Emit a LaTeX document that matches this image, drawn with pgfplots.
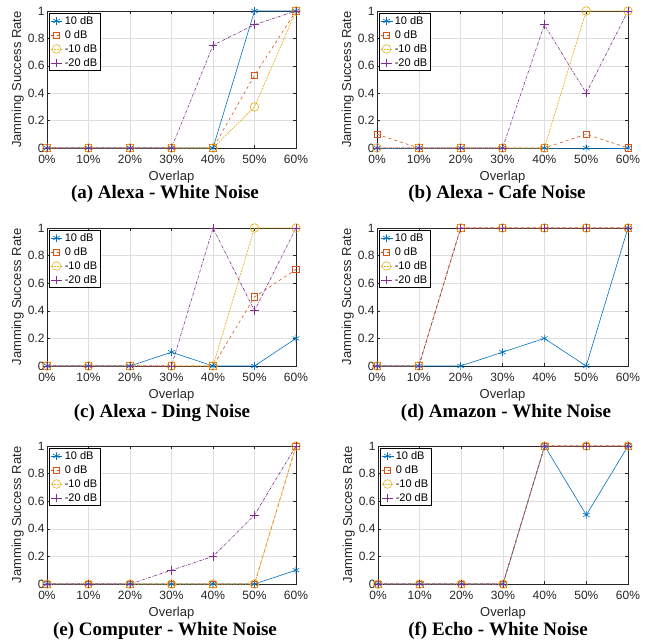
\documentclass[border=0pt]{standalone}
\usepackage{pgfplots}
\pgfplotsset{compat=1.18}
\usepackage{fontspec}
\setmainfont{Liberation Sans}
\newfontfamily\capfont{Liberation Serif}

\definecolor{c10}{rgb}{0,0.447,0.741}
\definecolor{c0}{rgb}{0.85,0.325,0.098}
\definecolor{cm10}{rgb}{0.929,0.694,0.125}
\definecolor{cm20}{rgb}{0.494,0.184,0.556}
\definecolor{axgray}{rgb}{0.15,0.15,0.15}

\pgfplotsset{
  panel/.style={
    scale only axis, anchor=north west,
    xmin=0, xmax=6, ymin=0, ymax=1,
    xtick={0,1,2,3,4,5,6},
    xticklabels={0\%,10\%,20\%,30\%,40\%,50\%,60\%},
    ytick={0,0.2,0.4,0.6,0.8,1},
    yticklabels={0,0.2,0.4,0.6,0.8,1},
    tick align=inside, major tick length=3pt,
    xtick pos=both, ytick pos=both,
    grid=major, grid style={draw=black!13, line width=0.5pt},
    axis line style={draw=axgray, line width=0.5pt},
    tick style={draw=axgray, line width=0.5pt},
    tick label style={font=\fontsize{12}{13}\selectfont, text=axgray},
    xticklabel style={yshift=-4pt},
    yticklabel style={xshift=1pt},
    label style={font=\fontsize{13}{14}\selectfont, text=axgray},
    xlabel={Overlap}, ylabel={Jamming Success Rate},
    xlabel style={yshift=0pt},
    ylabel style={yshift=-3pt},
    clip=false,
    legend style={at={(0.008,0.985)}, anchor=north west,
      font=\fontsize{11}{12}\selectfont, draw=black, line width=0.5pt,
      inner sep=1pt, row sep=0.5pt, fill=white,
      /tikz/every even column/.append style={column sep=0pt}},
    legend cell align=left,
    legend image post style={line width=0.6pt},
    legend image code/.code={
      \draw[mark repeat=2,mark phase=2] plot coordinates {(0cm,0cm) (0.21cm,0cm) (0.42cm,0cm)};},
  },
  s10/.style={c10, solid, line width=0.6pt, mark=asterisk, mark size=3.8pt, mark options={solid}},
  s0/.style={c0, dashed, line width=0.6pt, mark=square, mark size=3.2pt, mark options={solid}},
  sm10/.style={cm10, dash pattern=on 2pt off 1pt, line width=0.7pt, mark=o, mark size=4.3pt, mark options={solid}},
  sm20/.style={cm20, dash pattern=on 3pt off 1.2pt on 0.6pt off 1.2pt, line width=0.6pt, mark=+, mark size=4.3pt, mark options={solid}},
}

\begin{document}
\begin{tikzpicture}
\path[use as bounding box] (0pt,0pt) rectangle (647pt,640pt);

% (a) Alexa - White Noise
\begin{axis}[panel, at={(47pt,629pt)}, width=249pt, height=137pt]
  \addplot[s10] coordinates {(0,0) (1,0) (2,0) (3,0) (4,0) (5,1) (6,1)};
  \addplot[s0] coordinates {(0,0) (1,0) (2,0) (3,0) (4,0) (5,0.53) (6,1)};
  \addplot[sm10] coordinates {(0,0) (1,0) (2,0) (3,0) (4,0) (5,0.3) (6,1)};
  \addplot[sm20] coordinates {(0,0) (1,0) (2,0) (3,0) (4,0.75) (5,0.9) (6,1)};
  \legend{10 dB,0 dB,-10 dB,-20 dB}
\end{axis}

% (b) Alexa - Cafe Noise
\begin{axis}[panel, at={(377pt,629pt)}, width=251pt, height=137pt]
  \addplot[s10] coordinates {(0,0) (1,0) (2,0) (3,0) (4,0) (5,0) (6,0)};
  \addplot[s0] coordinates {(0,0.1) (1,0) (2,0) (3,0) (4,0) (5,0.1) (6,0)};
  \addplot[sm10] coordinates {(0,0) (1,0) (2,0) (3,0) (4,0) (5,1) (6,1)};
  \addplot[sm20] coordinates {(0,0) (1,0) (2,0) (3,0) (4,0.9) (5,0.4) (6,1)};
  \legend{10 dB,0 dB,-10 dB,-20 dB}
\end{axis}

% (c) Alexa - Ding Noise
\begin{axis}[panel, at={(47pt,412pt)}, width=249pt, height=138pt]
  \addplot[s10] coordinates {(0,0) (1,0) (2,0) (3,0.1) (4,0) (5,0) (6,0.2)};
  \addplot[s0] coordinates {(0,0) (1,0) (2,0) (3,0) (4,0) (5,0.5) (6,0.7)};
  \addplot[sm10] coordinates {(0,0) (1,0) (2,0) (3,0) (4,0) (5,1) (6,1)};
  \addplot[sm20] coordinates {(0,0) (1,0) (2,0) (3,0) (4,1) (5,0.4) (6,1)};
  \legend{10 dB,0 dB,-10 dB,-20 dB}
\end{axis}

% (d) Amazon - White Noise
\begin{axis}[panel, at={(377pt,412pt)}, width=251pt, height=138pt]
  \addplot[s10] coordinates {(0,0) (1,0) (2,0) (3,0.1) (4,0.2) (5,0) (6,1)};
  \addplot[s0] coordinates {(0,0) (1,0) (2,1) (3,1) (4,1) (5,1) (6,1)};
  \addplot[sm10] coordinates {(0,0) (1,0) (2,1) (3,1) (4,1) (5,1) (6,1)};
  \addplot[sm20] coordinates {(0,0) (1,0) (2,1) (3,1) (4,1) (5,1) (6,1)};
  \legend{10 dB,0 dB,-10 dB,-20 dB}
\end{axis}

% (e) Computer - White Noise
\begin{axis}[panel, at={(47pt,194pt)}, width=249pt, height=138pt]
  \addplot[s10] coordinates {(0,0) (1,0) (2,0) (3,0) (4,0) (5,0) (6,0.1)};
  \addplot[s0] coordinates {(0,0) (1,0) (2,0) (3,0) (4,0) (5,0) (6,1)};
  \addplot[sm10] coordinates {(0,0) (1,0) (2,0) (3,0) (4,0) (5,0) (6,1)};
  \addplot[sm20] coordinates {(0,0) (1,0) (2,0) (3,0.1) (4,0.2) (5,0.5) (6,1)};
  \legend{10 dB,0 dB,-10 dB,-20 dB}
\end{axis}

% (f) Echo - White Noise
\begin{axis}[panel, at={(378pt,194pt)}, width=250pt, height=138pt]
  \addplot[s10] coordinates {(0,0) (1,0) (2,0) (3,0) (4,1) (5,0.5) (6,1)};
  \addplot[s0] coordinates {(0,0) (1,0) (2,0) (3,0) (4,1) (5,1) (6,1)};
  \addplot[sm10] coordinates {(0,0) (1,0) (2,0) (3,0) (4,1) (5,1) (6,1)};
  \addplot[sm20] coordinates {(0,0) (1,0) (2,0) (3,0) (4,1) (5,1) (6,1)};
  \legend{10 dB,0 dB,-10 dB,-20 dB}
\end{axis}

% captions
\begin{scope}[every node/.style={font=\capfont\bfseries\fontsize{19}{21}\selectfont}]
  \node at (165pt,446pt) {(a) Alexa - White Noise};
  \node at (497pt,446pt) {(b) Alexa - Cafe Noise};
  \node at (162pt,227pt) {(c) Alexa - Ding Noise};
  \node at (506pt,227pt) {(d) Amazon - White Noise};
  \node at (165pt,9pt) {(e) Computer - White Noise};
  \node at (498pt,9pt) {(f) Echo - White Noise};
\end{scope}
\end{tikzpicture}
\end{document}
